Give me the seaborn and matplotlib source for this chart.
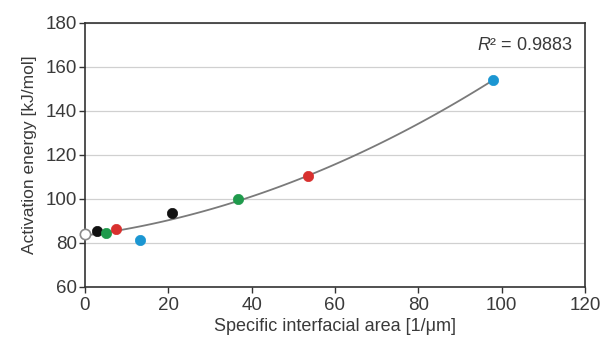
import matplotlib
matplotlib.use("Agg")
import matplotlib.pyplot as plt
import numpy as np
import pandas as pd
import seaborn as sns

# data
area = [0.0, 3.0, 5.0, 7.4, 13.2, 20.9, 36.7, 53.5, 98.0]
energy = [84.2, 85.6, 84.5, 86.3, 81.3, 93.4, 100.2, 110.3, 154.0]
group = ["open", "black", "green", "red", "blue", "black", "green", "red", "blue"]
r2_text = r"$R$² = 0.9883"

COLORS = {
    "black": "#111111",
    "green": "#1f9a4c",
    "red": "#d8302e",
    "blue": "#1b96d2",
    "open": "white",
}

df = pd.DataFrame({"area": area, "energy": energy, "group": group})

sns.set_theme(style="white")
plt.rcParams["font.family"] = ["Liberation Sans", "DejaVu Sans"]
plt.rcParams["mathtext.fontset"] = "custom"
plt.rcParams["mathtext.it"] = "Liberation Sans:italic"
plt.rcParams["mathtext.rm"] = "Liberation Sans"

TXT = "#3a3a3a"

fig = plt.figure(figsize=(6.01, 3.38), dpi=100)
ax = fig.add_axes([0.1414, 0.151, 0.832, 0.781])

ax.yaxis.grid(True, color="#d0d0d0", linewidth=0.9)
ax.set_axisbelow(True)

sns.regplot(data=df, x="area", y="energy", order=2, ci=None, scatter=False,
            truncate=True, ax=ax, line_kws={"color": "#7a7a7a", "linewidth": 1.3})

for g in ["open", "black", "green", "red", "blue"]:
    sub = df[df["group"] == g]
    edge = "#8a8a8a" if g == "open" else COLORS[g]
    sns.scatterplot(data=sub, x="area", y="energy", ax=ax, s=55,
                    color=COLORS[g], edgecolor=edge, linewidth=1.2 if g == "open" else 0.5,
                    zorder=5, clip_on=False)

ax.set_xlim(0, 120)
ax.set_ylim(60, 180)
ax.set_xticks(np.arange(0, 121, 20))
ax.set_yticks(np.arange(60, 181, 20))
ax.set_xlabel("Specific interfacial area [1/\u03bcm]", fontsize=13, color=TXT, labelpad=3)
ax.set_ylabel("Activation energy [kJ/mol]", fontsize=12.5, color=TXT, labelpad=6)
ax.tick_params(axis="both", labelsize=13.5, labelcolor=TXT, direction="out",
               length=4, width=1, color="#333333", pad=2)
ax.tick_params(axis="x", bottom=True, pad=3)
ax.tick_params(axis="y", left=True)
for sp in ax.spines.values():
    sp.set_color("#333333")
    sp.set_linewidth(1.2)

ax.text(0.975, 0.915, r2_text, transform=ax.transAxes, ha="right", va="center",
        fontsize=13, color=TXT)

fig.savefig("out.png", dpi=100)
